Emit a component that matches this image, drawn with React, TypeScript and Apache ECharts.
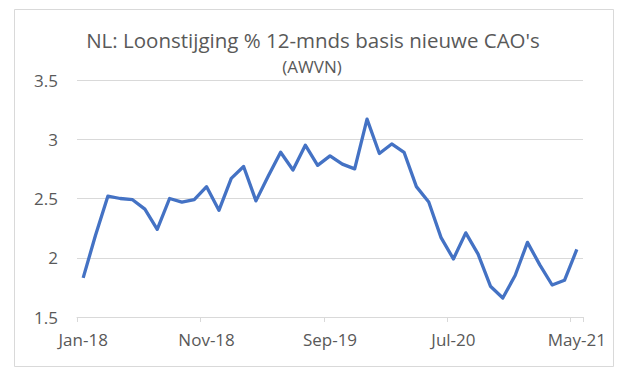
import React, { useEffect, useRef } from "react";
import * as echarts from "echarts";

const months: string[] = [
  "Jan-18","Feb-18","Mar-18","Apr-18","May-18","Jun-18","Jul-18","Aug-18","Sep-18","Oct-18",
  "Nov-18","Dec-18","Jan-19","Feb-19","Mar-19","Apr-19","May-19","Jun-19","Jul-19","Aug-19",
  "Sep-19","Oct-19","Nov-19","Dec-19","Jan-20","Feb-20","Mar-20","Apr-20","May-20","Jun-20",
  "Jul-20","Aug-20","Sep-20","Oct-20","Nov-20","Dec-20","Jan-21","Feb-21","Mar-21","Apr-21",
  "May-21",
];

const wageGrowth: number[] = [
  1.83, 2.19, 2.52, 2.50, 2.49, 2.41, 2.24, 2.50, 2.47, 2.49,
  2.60, 2.40, 2.67, 2.77, 2.48, 2.69, 2.89, 2.74, 2.95, 2.78,
  2.86, 2.79, 2.75, 3.17, 2.88, 2.96, 2.89, 2.60, 2.47, 2.17,
  1.99, 2.21, 2.03, 1.76, 1.66, 1.85, 2.13, 1.94, 1.77, 1.81,
  2.07,
];

const titleText = "NL: Loonstijging % 12-mnds basis nieuwe CAO's";
const subtitleText = "(AWVN)";

const FONT = "'Open Sans', 'Liberation Sans', sans-serif";

export default function App() {
  const ref = useRef<HTMLDivElement>(null);
  useEffect(() => {
    if (!ref.current) return;
    const chart = echarts.init(ref.current, null, { renderer: "svg" });
    chart.setOption({
      animation: false,
      backgroundColor: "#ffffff",
      graphic: [
        {
          type: "rect",
          shape: { x: 14.5, y: 9.5, width: 599, height: 357 },
          style: { fill: "none", stroke: "#d9d9d9", lineWidth: 1 },
          silent: true,
        },
        {
          type: "text",
          x: 313,
          y: 40,
          style: {
            text: titleText,
            fontFamily: FONT,
            fontSize: 20.5,
            fill: "#595959",
            align: "center",
            verticalAlign: "middle",
          },
        },
        {
          type: "text",
          x: 312,
          y: 66,
          style: {
            text: subtitleText,
            fontFamily: FONT,
            fontSize: 17,
            fill: "#595959",
            align: "center",
            verticalAlign: "middle",
          },
        },
      ],
      grid: { left: 77, right: 42, top: 80, bottom: 60, containLabel: false },
      xAxis: {
        type: "category",
        data: months,
        boundaryGap: true,
        axisLine: { show: true, lineStyle: { color: "#d9d9d9", width: 1 } },
        axisTick: { show: true, interval: 9, length: 5, lineStyle: { color: "#d9d9d9" } },
        axisLabel: {
          interval: 9,
          color: "#595959",
          fontFamily: FONT,
          fontSize: 17,
          margin: 14,
        },
        splitLine: { show: false },
      },
      yAxis: {
        type: "value",
        min: 1.5,
        max: 3.5,
        interval: 0.5,
        axisLine: { show: false },
        axisTick: { show: false },
        axisLabel: { color: "#595959", fontFamily: FONT, fontSize: 17, margin: 19 },
        splitLine: { lineStyle: { color: "#d9d9d9", width: 1 } },
      },
      series: [
        {
          type: "line",
          data: wageGrowth,
          symbol: "none",
          lineStyle: { color: "#4472c4", width: 3.3, join: "round" },
          itemStyle: { color: "#4472c4" },
        },
      ],
    });
    return () => chart.dispose();
  }, []);
  return (
    <div
      ref={ref}
      style={{ position: "absolute", left: 0, top: 0, width: 625, height: 377 }}
    />
  );
}
